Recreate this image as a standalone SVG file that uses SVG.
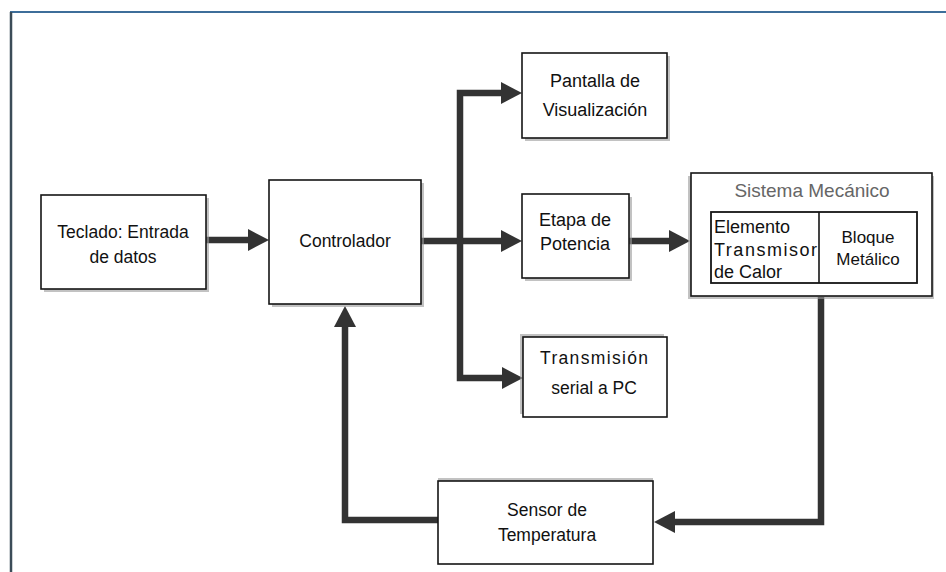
<svg xmlns="http://www.w3.org/2000/svg" width="946" height="572" viewBox="0 0 946 572">
  <style>
    .box { fill: #ffffff; stroke: #151515; stroke-width: 1.6; }
    .shadow { fill: #9a9a9a; opacity: 0.6; }
    .lbl { font-family: "Liberation Sans", Arial, sans-serif; font-size: 17.5px; fill: #111; text-anchor: middle; }
    .conn { fill: none; stroke: #333333; stroke-width: 6.5; stroke-linejoin: miter; }
  </style>
  <defs>
    <marker id="ah" markerUnits="userSpaceOnUse" markerWidth="22" markerHeight="24" refX="0" refY="11" orient="auto" overflow="visible">
      <path d="M0,0 L21,11 L0,22 Z" fill="#333333"/>
    </marker>
  </defs>
  <rect x="0" y="0" width="946" height="572" fill="#ffffff"/>
  <!-- frame -->
  <line x1="10" y1="12" x2="946" y2="12" stroke="#3d6e9a" stroke-width="2.2"/>
  <line x1="11" y1="12" x2="11" y2="572" stroke="#3b4c58" stroke-width="2.5"/>

  <g id="connectors">
    <path class="conn" d="M206,240 H248" marker-end="url(#ah)"/>
    <path class="conn" d="M421,241 H501" marker-end="url(#ah)"/>
    <path class="conn" d="M460,241 V93 H501" marker-end="url(#ah)"/>
    <path class="conn" d="M460,238 V378 H502" marker-end="url(#ah)"/>
    <path class="conn" d="M629,241 H669" marker-end="url(#ah)"/>
    <path class="conn" d="M821,297 V522 H675" marker-end="url(#ah)"/>
    <path class="conn" d="M438,520 H345 V327" marker-end="url(#ah)"/>
  </g>

  <g id="teclado">
    <rect class="shadow" x="44" y="198" width="165" height="94"/>
    <rect class="box" x="41" y="195" width="165" height="94"/>
    <text class="lbl" x="123" y="238">Teclado: Entrada</text>
    <text class="lbl" x="123" y="263">de datos</text>
  </g>

  <g id="controlador">
    <rect class="shadow" x="272" y="183" width="152" height="124"/>
    <rect class="box" x="269" y="180" width="152" height="124"/>
    <text class="lbl" x="345" y="247">Controlador</text>
  </g>

  <g id="pantalla">
    <rect class="shadow" x="525" y="56" width="145" height="85"/>
    <rect class="box" x="522" y="53" width="145" height="85"/>
    <text class="lbl" x="595" y="87" style="font-size:18px">Pantalla de</text>
    <text class="lbl" x="595" y="116" style="font-size:18px">Visualización</text>
  </g>

  <g id="etapa">
    <rect class="shadow" x="525" y="197" width="107" height="84"/>
    <rect class="box" x="522" y="194" width="107" height="84"/>
    <text class="lbl" x="575" y="226" style="font-size:18px">Etapa de</text>
    <text class="lbl" x="575" y="250" style="font-size:18px">Potencia</text>
  </g>

  <g id="sistema">
    <rect class="shadow" x="688" y="176" width="246" height="123"/>
    <rect class="box" x="691" y="173" width="241" height="123"/>
    <text class="lbl" x="812" y="197" style="font-size:19px;fill:#666666">Sistema Mecánico</text>
    <rect class="box" x="711" y="212" width="206" height="71" style="stroke-width:1.8"/>
    <line x1="819" y1="212" x2="819" y2="283" stroke="#151515" stroke-width="1.6"/>
    <text class="lbl" x="714" y="233" style="font-size:18px;text-anchor:start">Elemento</text>
    <text class="lbl" x="714" y="256" style="font-size:18px;text-anchor:start" textLength="103">Transmisor</text>
    <text class="lbl" x="714" y="278" style="font-size:18px;text-anchor:start">de Calor</text>
    <text class="lbl" x="868" y="243" style="font-size:17px">Bloque</text>
    <text class="lbl" x="868" y="265" style="font-size:17px">Metálico</text>
  </g>

  <g id="transmision">
    <rect class="shadow" x="520" y="334" width="144" height="80"/>
    <rect class="box" x="523" y="337" width="144" height="80"/>
    <text class="lbl" x="594" y="364" textLength="108">Transmisión</text>
    <text class="lbl" x="594" y="394">serial a PC</text>
  </g>

  <g id="sensor">
    <rect class="shadow" x="438" y="478" width="215" height="6"/>
    <rect class="box" x="438" y="481" width="215" height="83"/>
    <text class="lbl" x="547" y="516">Sensor de</text>
    <text class="lbl" x="547" y="541">Temperatura</text>
  </g>
</svg>
